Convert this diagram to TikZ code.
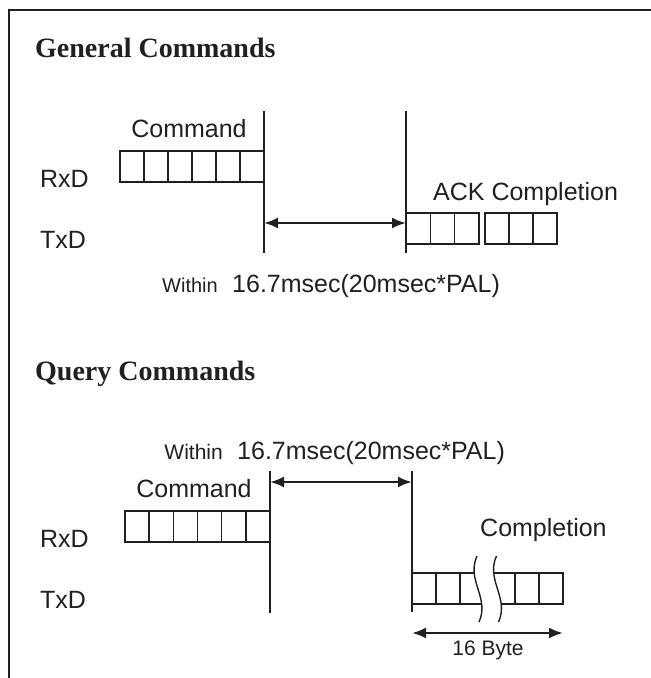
\documentclass[tikz,border=0pt]{standalone}
\usepackage{fontspec}
\setmainfont{Liberation Serif}
\setsansfont{Liberation Sans}
\usetikzlibrary{positioning,arrows.meta}
\definecolor{lineColor}{RGB}{35,31,32}
\tikzstyle{diagram} = [x = 1pt, y = -1pt]
\tikzstyle{frameLine} = [color=lineColor, line width=1.6pt]
\tikzstyle{cellStyle} = [color=lineColor, line width=1.4pt]
\tikzstyle{markerLine} = [color=lineColor, line width=1.4pt]
\tikzstyle{spanArrow} = [color=lineColor, line width=2.4pt, {Latex[length=14pt, width=11pt]}-{Latex[length=14pt, width=11pt]}]
\tikzstyle{titleText} = [font=\fontsize{28}{32}\selectfont\bfseries, text=lineColor, anchor=base west, inner sep=0pt]
\tikzstyle{labelText} = [font=\sffamily\fontsize{25}{30}\selectfont, text=lineColor, inner sep=0pt]
\tikzstyle{smallText} = [font=\sffamily\fontsize{20}{24}\selectfont, text=lineColor, inner sep=0pt]
\newcommand{\cellHeight}{31}
\newcommand{\cellRow}[4]{
  \foreach \cell in {1,...,#3} {
    \draw [cellStyle] (#1 + \cell * #4 - #4, #2) rectangle + (#4, \cellHeight);
  }
}
\newcommand{\breakCurve}[1]{(477 + #1, 556) .. controls (466 + #1, 580) and (490 + #1, 598) .. (479 + #1, 622)}

\begin{document}
\begin{tikzpicture}[diagram]
  \useasboundingbox (0,0) rectangle (651,678);
  \fill [white] (0,0) rectangle (651,678);
  \draw [frameLine] (651,10) -- (9,10) -- (9,678);

  \node [titleText] (generalTitle) at (35,57) {General Commands};
  \node [labelText, anchor=base west] (rxdGeneral) at (40,187) {RxD};
  \node [labelText, anchor=base west] (txdGeneral) at (40,248) {TxD};
  \node [labelText, anchor=base] (commandGeneral) at (189,137) {Command};
  \node [labelText, anchor=base west] (ackGeneral) at (433,200) {ACK Completion};
  \cellRow{120}{151}{6}{24}
  \cellRow{406}{213}{3}{24.3}
  \cellRow{485}{213}{3}{24}
  \coordinate (sendTopGeneral) at (264,111);
  \coordinate (sendBottomGeneral) at (264,253);
  \coordinate (replyTopGeneral) at (406,111);
  \coordinate (replyBottomGeneral) at (406,253);
  \coordinate (gapStartGeneral) at (264,223);
  \coordinate (gapEndGeneral) at (406,223);
  \draw [markerLine] (sendTopGeneral) -- (sendBottomGeneral);
  \draw [markerLine] (replyTopGeneral) -- (replyBottomGeneral);
  \draw [spanArrow] (gapStartGeneral) -- (gapEndGeneral);
  \node [smallText, anchor=base east] (withinGeneral) at (218,292) {Within};
  \node [labelText, base right=14pt of withinGeneral] (timeGeneral) {16.7msec(20msec*PAL)};

  \node [titleText] (queryTitle) at (35,380) {Query Commands};
  \node [labelText, anchor=base west] (rxdQuery) at (40,547) {RxD};
  \node [labelText, anchor=base west] (txdQuery) at (40,608) {TxD};
  \node [labelText, anchor=base] (commandQuery) at (194,497) {Command};
  \node [labelText, anchor=base west] (completionQuery) at (480,536) {Completion};
  \cellRow{125}{511}{6}{24.17}
  \cellRow{412}{573}{3}{24}
  \cellRow{515}{573}{2}{24}
  \draw [cellStyle] (484,573) -- (515,573);
  \draw [cellStyle] (484,604) -- (515,604);
  \fill [white] \breakCurve{0} -- (498.5,622) .. controls (509.5,598) and (485.5,580) .. (496.5,556) -- cycle;
  \draw [markerLine] \breakCurve{0};
  \draw [markerLine] \breakCurve{19.5};
  \coordinate (sendTopQuery) at (270,471);
  \coordinate (sendBottomQuery) at (270,613);
  \coordinate (replyTopQuery) at (412,471);
  \coordinate (replyBottomQuery) at (412,612);
  \coordinate (gapStartQuery) at (270,482);
  \coordinate (gapEndQuery) at (412,482);
  \draw [markerLine] (sendTopQuery) -- (sendBottomQuery);
  \draw [markerLine] (replyTopQuery) -- (replyBottomQuery);
  \draw [spanArrow] (gapStartQuery) -- (gapEndQuery);
  \node [smallText, font=\sffamily\fontsize{21}{25}\selectfont, anchor=base east] (withinQuery) at (223,459) {Within};
  \node [labelText, base right=14pt of withinQuery] (timeQuery) {16.7msec(20msec*PAL)};
  \coordinate (byteStart) at (412,633);
  \coordinate (byteEnd) at (563,633);
  \draw [spanArrow] (byteStart) -- (byteEnd);
  \node [smallText, font=\sffamily\fontsize{21}{25}\selectfont, anchor=base] (byteLabel) at (488,655) {16 Byte};
\end{tikzpicture}
\end{document}
